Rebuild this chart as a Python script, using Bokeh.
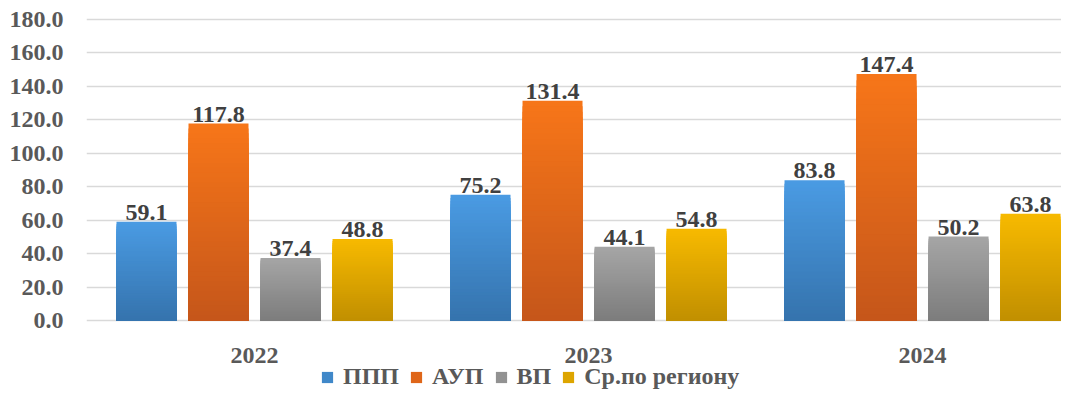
from bokeh.plotting import figure
from bokeh.models import (ColumnDataSource, FixedTicker, PrintfTickFormatter,
                          Legend, LegendItem, Range1d)
from bokeh.embed import file_html
from bokeh.resources import INLINE
from bokeh.core.properties import value

# ---- data ----
years = [2022, 2023, 2024]
year_labels = ["2022", "2023", "2024"]
series_names = ["ППП", "АУП", "ВП", "Ср.по региону"]
ppp = [59.1, 75.2, 83.8]
aup = [117.8, 131.4, 147.4]
vp = [37.4, 44.1, 50.2]
avg_region = [48.8, 54.8, 63.8]
y_ticks = [0, 20, 40, 60, 80, 100, 120, 140, 160, 180]

# ---- styling ----
top_colors = ["#4A9BE3", "#F77619", "#A6A6A6", "#F7BA00"]
bottom_colors = ["#3573AD", "#C5561A", "#7C7C7C", "#C18F00"]
offsets = [-0.3234, -0.1078, 0.1078, 0.3234]
BAR_W = 0.1796
N_SLICES = 40
FONT = "Liberation Serif"
AXIS_COLOR = "#595959"
LABEL_COLOR = "#404040"
FS = "24px"


def hex2rgb(h):
    h = h.lstrip("#")
    return tuple(int(h[i:i + 2], 16) for i in (0, 2, 4))


def lerp_color(c0, c1, t):
    a, b = hex2rgb(c0), hex2rgb(c1)
    return "#%02x%02x%02x" % tuple(round(a[i] + (b[i] - a[i]) * t) for i in range(3))


p = figure(width=1061, height=390,
           x_range=Range1d(2021.497, 2024.416), y_range=Range1d(-41.86, 191.36),
           output_backend="svg", toolbar_location=None,
           min_border_left=86, min_border_right=0,
           min_border_top=0, min_border_bottom=0)
p.outline_line_color = None
p.background_fill_color = "white"
p.border_fill_color = "white"

all_series = [ppp, aup, vp, avg_region]
legend_items = []
for s, vals in enumerate(all_series):
    xs, tops, cols = [], [], []
    for yr, v in zip(years, vals):
        for k in range(N_SLICES - 1, -1, -1):
            xs.append(yr + offsets[s])
            tops.append(v * (k + 1) / N_SLICES)
            cols.append(lerp_color(bottom_colors[s], top_colors[s], (k + 0.5) / N_SLICES))
    src = ColumnDataSource(dict(x=xs, top=tops, color=cols))
    r = p.vbar(x="x", top="top", bottom=0, width=BAR_W, source=src,
               fill_color="color", line_color=None)
    legend_items.append(LegendItem(label=series_names[s], renderers=[r],
                                   index=N_SLICES - 1 - N_SLICES // 2))
    lab_src = ColumnDataSource(dict(x=[yr + offsets[s] for yr in years], y=vals,
                                    t=["%.1f" % v for v in vals]))
    p.text(x="x", y="y", text="t", source=lab_src, text_align="center",
           text_baseline="bottom", y_offset=-2,
           text_font=value(FONT), text_font_style="bold",
           text_font_size=FS, text_color=LABEL_COLOR)

# category labels under each group
cat_src = ColumnDataSource(dict(x=years, y=[0] * len(years), t=year_labels))
p.text(x="x", y="y", text="t", source=cat_src, text_align="center",
       text_baseline="middle", y_offset=35,
       text_font=value(FONT), text_font_style="bold",
       text_font_size=FS, text_color=AXIS_COLOR)

# axes
p.xaxis.visible = False
p.yaxis.ticker = FixedTicker(ticks=y_ticks)
p.yaxis.formatter = PrintfTickFormatter(format="%.1f")
ax = p.yaxis[0]
ax.axis_line_color = None
ax.major_tick_line_color = None
ax.minor_tick_line_color = None
ax.major_tick_out = 0
ax.major_tick_in = 0
ax.major_label_text_font = FONT
ax.major_label_text_font_style = "bold"
ax.major_label_text_font_size = FS
ax.major_label_text_color = AXIS_COLOR
ax.major_label_standoff = 23

p.xgrid.visible = False
p.ygrid.grid_line_color = "#D9D9D9"
p.ygrid.grid_line_width = 1.5

legend = Legend(items=legend_items, orientation="horizontal",
                location=(234, 0), glyph_width=14, glyph_height=14,
                label_standoff=9, spacing=10, padding=0, margin=0,
                border_line_color=None, background_fill_alpha=0,
                label_text_font=FONT, label_text_font_style="bold",
                label_text_font_size=FS, label_text_color=AXIS_COLOR)
p.add_layout(legend, "center")

open("out.html", "w").write(file_html(p, INLINE))
